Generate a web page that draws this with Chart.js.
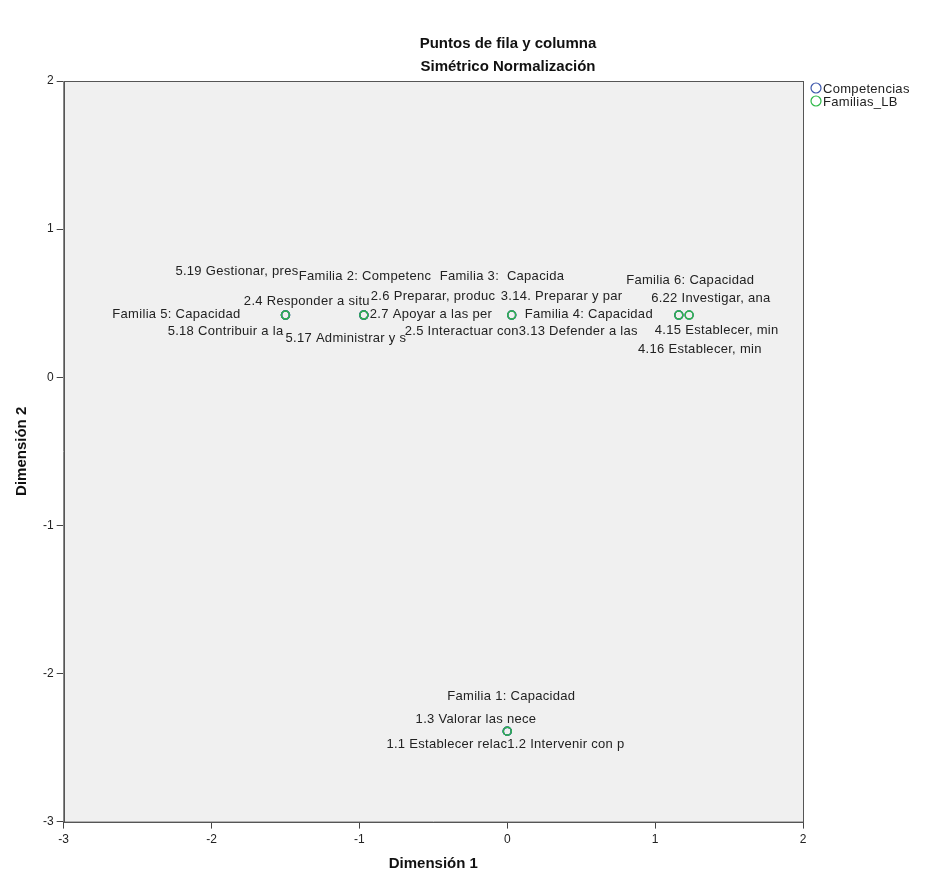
<!DOCTYPE html>
<html>
<head>
<meta charset="utf-8">
<script src="https://cdn.jsdelivr.net/npm/chart.js@4.4.1/dist/chart.umd.min.js"></script>
<style>
  html, body { margin: 0; padding: 0; background: #fff; }
  #wrap { width: 928px; height: 878px; position: relative; }
</style>
</head>
<body>
<div id="wrap"><canvas id="cpunt"></canvas></div>
<script>
// datos: puntos de fila (competencias) y columna (familias)
var titulo = 'Puntos de fila y columna';
var subtitulo = 'Simétrico Normalización';

var competencias = ['1.1 Establecer relac', '1.2 Intervenir con p', '1.3 Valorar las nece',
  '2.4 Responder a situ', '2.5 Interactuar con', '2.6 Preparar, produc', '2.7 Apoyar a las per',
  '3.13 Defender a las', '3.14. Preparar y par', '4.15 Establecer, min', '4.16 Establecer, min',
  '5.17 Administrar y s', '5.18 Contribuir a la', '5.19 Gestionar, pres', '6.22 Investigar, ana'];
var compDim1 = [0.00, 0.00, 0.00, -0.97, -0.97, -0.97, -0.97, 0.03, 0.03, 1.16, 1.16, -1.50, -1.50, -1.50, 1.23];
var compDim2 = [-2.39, -2.39, -2.39, 0.42, 0.42, 0.42, 0.42, 0.42, 0.42, 0.42, 0.42, 0.42, 0.42, 0.42, 0.42];

var familias = ['Familia 1: Capacidad', 'Familia 2: Competenc', 'Familia 3:  Capacida',
  'Familia 4: Capacidad', 'Familia 5: Capacidad', 'Familia 6: Capacidad'];
var famDim1 = [0.00, -0.97, 0.03, 1.16, -1.50, 1.23];
var famDim2 = [-2.39, 0.42, 0.42, 0.42, 0.42, 0.42];

var ticksDim = [-3, -2, -1, 0, 1, 2];

// donde va cada etiqueta respecto a su punto (px): dx, dy, alineacion
var posEtiqueta = {
  '1.1 Establecer relac': [0, 13, 'right'],
  '1.2 Intervenir con p': [0, 13, 'left'],
  '1.3 Valorar las nece': [29, -12, 'right'],
  '2.4 Responder a situ': [6, -14, 'right'],
  '2.5 Interactuar con': [155, 16, 'right'],
  '2.6 Preparar, produc': [7, -19, 'left'],
  '2.7 Apoyar a las per': [6, -1, 'left'],
  '3.13 Defender a las': [7, 16, 'left'],
  '3.14. Preparar y par': [-11, -19, 'left'],
  '4.15 Establecer, min': [-24, 15, 'left'],
  '4.16 Establecer, min': [83, 34, 'right'],
  '5.17 Administrar y s': [0, 23, 'left'],
  '5.18 Contribuir a la': [-2, 16, 'right'],
  '5.19 Gestionar, pres': [13, -44, 'right'],
  '6.22 Investigar, ana': [-38, -17, 'left'],
  'Familia 1: Capacidad': [-60, -35, 'left'],
  'Familia 2: Competenc': [-65, -39, 'left'],
  'Familia 3:  Capacida': [-72, -39, 'left'],
  'Familia 4: Capacidad': [-154, -1, 'left'],
  'Familia 5: Capacidad': [-45, -1, 'right'],
  'Familia 6: Capacidad': [-63, -35, 'left']
};

function puntos(d1, d2) {
  var out = [];
  for (var i in d1) out.push({ x: d1[i], y: d2[i] });
  return out;
}

var fuente = '"Liberation Sans", Arial, sans-serif';

// fondo gris, marco, titulos y leyenda
var marco = {
  id: 'marco',
  beforeDatasetsDraw: function (chart) {
    var a = chart.chartArea, ctx = chart.ctx;
    ctx.save();
    ctx.fillStyle = '#f0f0f0';
    ctx.fillRect(a.left, a.top, a.right - a.left, a.bottom - a.top);
    ctx.restore();
  },
  afterDraw: function (chart) {
    var a = chart.chartArea, ctx = chart.ctx;
    ctx.save();
    ctx.strokeStyle = '#555';
    ctx.lineWidth = 1;
    ctx.strokeRect(Math.round(a.left) + 0.5, Math.round(a.top) + 0.5, Math.round(a.right - a.left), Math.round(a.bottom - a.top));
    // titulos
    ctx.fillStyle = '#111';
    ctx.textAlign = 'center';
    ctx.textBaseline = 'middle';
    ctx.font = 'bold 15px ' + fuente;
    ctx.fillText(titulo, 508, 44);
    ctx.fillText(subtitulo, 508, 67);
    // leyenda
    ctx.font = '13px ' + fuente;
    ctx.letterSpacing = '0.3px';
    ctx.textAlign = 'left';
    chart.data.datasets.forEach(function (ds, i) {
      var y = a.top + 7 + 13 * i;
      ctx.beginPath();
      ctx.arc(a.right + 13, y, 5, 0, Math.PI * 2);
      ctx.strokeStyle = ds.borderColor;
      ctx.lineWidth = 1.2;
      ctx.stroke();
      ctx.fillStyle = '#222';
      ctx.fillText(ds.label, a.right + 20, y + 1);
    });
    ctx.restore();
  }
};

// etiquetas de los puntos
var etiquetas = {
  id: 'etiquetas',
  afterDatasetsDraw: function (chart) {
    var ctx = chart.ctx;
    ctx.save();
    ctx.font = '13px ' + fuente;
    ctx.letterSpacing = '0.3px';
    ctx.fillStyle = '#222';
    ctx.textBaseline = 'middle';
    chart.data.datasets.forEach(function (ds, di) {
      var meta = chart.getDatasetMeta(di);
      ds.nombres.forEach(function (nom, i) {
        var p = meta.data[i], o = posEtiqueta[nom];
        ctx.textAlign = o[2];
        ctx.fillText(nom, p.x + o[0], p.y + o[1]);
      });
    });
    ctx.restore();
  }
};

var ejeComun = function (tituloEje, pad, tickPad) {
  return {
    type: 'linear',
    min: -3,
    max: 2,
    afterBuildTicks: function (axis) { axis.ticks = ticksDim.map(function (v) { return { value: v }; }); },
    ticks: { color: '#222', font: { family: fuente, size: 12 }, padding: tickPad },
    grid: {
      color: function (c) { return c.tick && c.tick.value === 0 ? '#444' : 'rgba(0,0,0,0)'; },
      tickColor: '#444',
      tickLength: 7,
      drawOnChartArea: true
    },
    border: { color: '#555', width: 1 },
    title: { display: true, text: tituloEje, color: '#111', font: { family: fuente, size: 15, weight: 'bold' }, padding: pad }
  };
};

var ctx = document.getElementById('cpunt');
new Chart(ctx, {
  type: 'scatter',
  plugins: [marco, etiquetas],
  data: {
    datasets: [{
      label: 'Competencias',
      nombres: competencias,
      data: puntos(compDim1, compDim2),
      borderColor: '#3e58ac',
      backgroundColor: 'rgba(0,0,0,0)',
      pointRadius: 4,
      pointHoverRadius: 4,
      borderWidth: 1.5,
      order: 1
    }, {
      label: 'Familias_LB',
      nombres: familias,
      data: puntos(famDim1, famDim2),
      borderColor: '#2eb848',
      backgroundColor: 'rgba(0,0,0,0)',
      pointRadius: 4,
      pointHoverRadius: 4,
      borderWidth: 1.5,
      order: 0
    }]
  },
  options: {
    responsive: true,
    maintainAspectRatio: false,
    animation: false,
    layout: { padding: { top: 81, left: 0, right: 125, bottom: 5 } },
    plugins: {
      tooltip: { enabled: false },
      legend: { display: false }
    },
    scales: {
      x: ejeComun('Dimensión 1', { top: 4, bottom: 0 }, 4),
      y: ejeComun('Dimensión 2', { top: 13, bottom: 9 }, 3)
    }
  }
});
</script>
</body>
</html>
